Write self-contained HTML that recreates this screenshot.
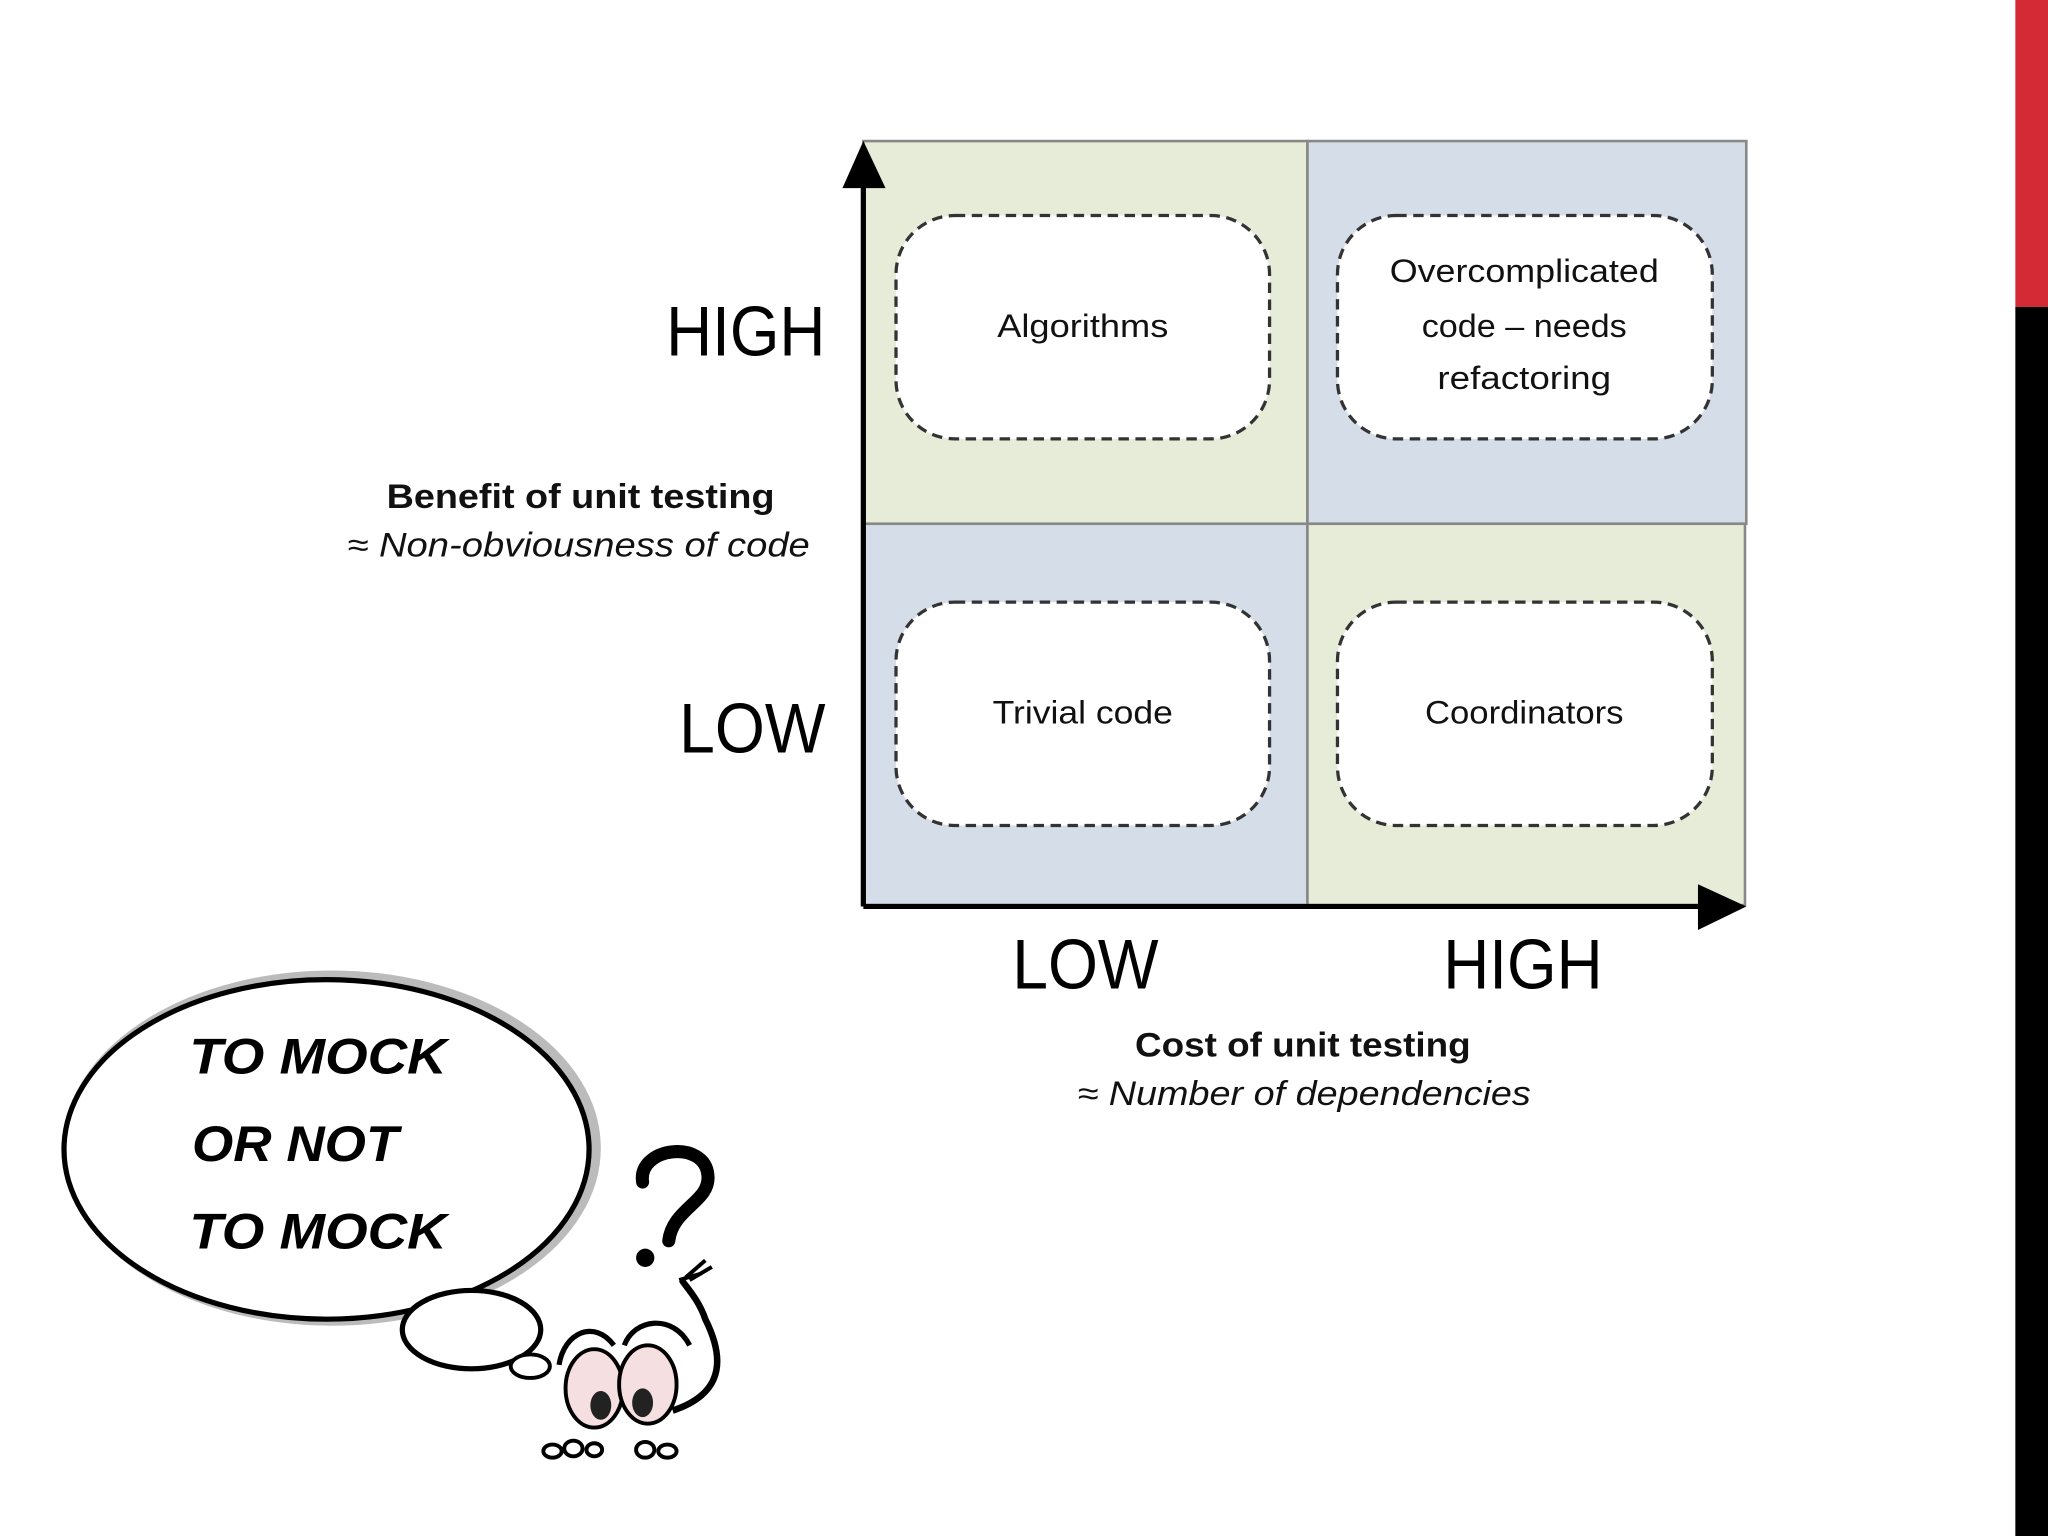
<!DOCTYPE html>
<html><head><meta charset="utf-8"><style>html,body{margin:0;padding:0;background:#fff}svg{display:block}</style></head>
<body>
<svg width="2048" height="1536" viewBox="0 0 1568 1176" xmlns="http://www.w3.org/2000/svg" font-family="Liberation Sans, sans-serif">
<rect x="0" y="0" width="1568" height="1176" fill="#fff"/>
<rect x="1543" y="0" width="25" height="235" fill="#d42a35"/>
<rect x="1543" y="235" width="25" height="941" fill="#000"/>
<!-- quadrants -->
<rect x="661" y="108" width="340" height="293" fill="#e6ecd8" stroke="#888" stroke-width="2"/>
<rect x="1001" y="108" width="336" height="293" fill="#d5dde9" stroke="#888" stroke-width="2"/>
<rect x="661" y="401" width="340" height="292" fill="#d5dde9" stroke="#888" stroke-width="2"/>
<rect x="1001" y="401" width="335" height="292" fill="#e6ecd8" stroke="#888" stroke-width="2"/>
<!-- axes -->
<line x1="661" y1="140" x2="661" y2="694" stroke="#000" stroke-width="4"/>
<polygon points="661,108 645,144 678,144" fill="#000"/>
<line x1="661" y1="694" x2="1305" y2="694" stroke="#000" stroke-width="4"/>
<polygon points="1337,694 1300,677 1300,712" fill="#000"/>
<!-- boxes -->
<g fill="#fff" stroke="#333" stroke-width="2.5" stroke-dasharray="8,5">
<rect x="686" y="165" width="286" height="171" rx="45"/>
<rect x="1024" y="165" width="287" height="171" rx="45"/>
<rect x="686" y="461" width="286" height="171" rx="45"/>
<rect x="1024" y="461" width="287" height="171" rx="45"/>
</g>
<g font-size="25" fill="#111" text-anchor="middle">
<text x="829" y="258" textLength="131" lengthAdjust="spacingAndGlyphs">Algorithms</text>
<text x="1167" y="216" textLength="206" lengthAdjust="spacingAndGlyphs">Overcomplicated</text>
<text x="1167" y="258" textLength="157" lengthAdjust="spacingAndGlyphs">code – needs</text>
<text x="1167" y="298" textLength="133" lengthAdjust="spacingAndGlyphs">refactoring</text>
<text x="829" y="554" textLength="138" lengthAdjust="spacingAndGlyphs">Trivial code</text>
<text x="1167" y="554" textLength="152" lengthAdjust="spacingAndGlyphs">Coordinators</text>
</g>
<g font-size="54" fill="#000">
<text x="510" y="272" textLength="122" lengthAdjust="spacingAndGlyphs">HIGH</text>
<text x="520" y="576" textLength="112" lengthAdjust="spacingAndGlyphs">LOW</text>
<text x="775" y="757" textLength="112" lengthAdjust="spacingAndGlyphs">LOW</text>
<text x="1105" y="757" textLength="122" lengthAdjust="spacingAndGlyphs">HIGH</text>
</g>
<g font-size="26" fill="#111">
<text x="296" y="389" font-weight="bold" textLength="297" lengthAdjust="spacingAndGlyphs">Benefit of unit testing</text>
<text x="266" y="426" font-style="italic" textLength="354" lengthAdjust="spacingAndGlyphs">≈ Non-obviousness of code</text>
<text x="869" y="809" font-weight="bold" textLength="257" lengthAdjust="spacingAndGlyphs">Cost of unit testing</text>
<text x="825" y="846" font-style="italic" textLength="347" lengthAdjust="spacingAndGlyphs">≈ Number of dependencies</text>
</g>
<!-- thought bubble -->
<ellipse cx="254" cy="879" rx="202" ry="132" fill="none" stroke="#bbb" stroke-width="8"/>
<ellipse cx="250" cy="880" rx="201" ry="130" fill="#fff" stroke="#000" stroke-width="4"/>
<ellipse cx="361" cy="1018" rx="53" ry="30" fill="#fff" stroke="#000" stroke-width="4"/>
<ellipse cx="406" cy="1046" rx="15" ry="9" fill="#fff" stroke="#000" stroke-width="3"/>
<g font-size="38" font-weight="bold" font-style="italic" fill="#000">
<text x="145" y="822" textLength="197" lengthAdjust="spacingAndGlyphs">TO  MOCK</text>
<text x="147" y="889" textLength="158" lengthAdjust="spacingAndGlyphs">OR  NOT</text>
<text x="145" y="956" textLength="197" lengthAdjust="spacingAndGlyphs">TO  MOCK</text>
</g>
<!-- question mark -->
<path d="M492,905 C488,878 540,872 542,900 C544,920 515,925 512,950" fill="none" stroke="#000" stroke-width="10" stroke-linecap="round"/>
<circle cx="494" cy="963" r="7" fill="#000"/>
<!-- character -->
<ellipse cx="455" cy="1063" rx="22" ry="30" fill="#f5dfe0" stroke="#000" stroke-width="3"/>
<ellipse cx="496" cy="1060" rx="22" ry="30" fill="#f5dfe0" stroke="#000" stroke-width="3"/>
<ellipse cx="460" cy="1076" rx="8" ry="11" fill="#222"/>
<ellipse cx="492" cy="1074" rx="8" ry="11" fill="#222"/>
<path d="M428,1045 C432,1020 455,1010 470,1030" fill="none" stroke="#000" stroke-width="4"/>
<path d="M478,1030 C485,1010 515,1005 528,1030" fill="none" stroke="#000" stroke-width="4"/>
<path d="M515,1080 C545,1070 560,1050 540,1010 C535,995 525,985 522,980" fill="none" stroke="#000" stroke-width="5"/>
<path d="M520,980 L537,975 M525,978 L540,965 M528,980 L545,970" stroke="#000" stroke-width="3"/>
<g fill="#fff" stroke="#000" stroke-width="3">
<ellipse cx="423" cy="1111" rx="7" ry="5"/><ellipse cx="439" cy="1109" rx="7" ry="6"/><ellipse cx="455" cy="1110" rx="6" ry="5"/>
<ellipse cx="494" cy="1110" rx="7" ry="6"/><ellipse cx="511" cy="1111" rx="7" ry="5"/>
</g>
</svg>
</body></html>
